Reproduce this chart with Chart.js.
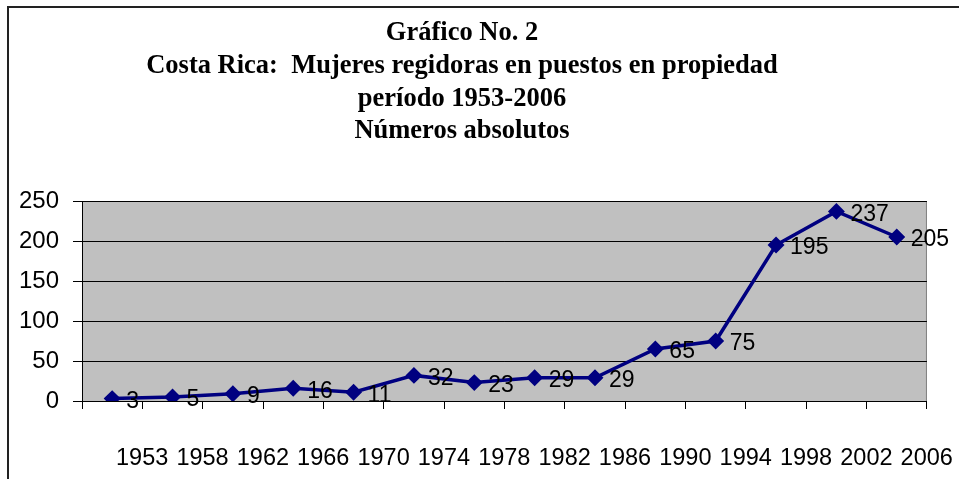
<!DOCTYPE html>
<html>
<head>
<meta charset="utf-8">
<script src="https://cdn.jsdelivr.net/npm/chart.js@4.4.1/dist/chart.umd.min.js"></script>
<style>
html,body{margin:0;padding:0;background:#fff;}
#wrap{position:relative;width:959px;height:479px;}
canvas{display:block;}
</style>
</head>
<body>
<div id="wrap"><canvas id="c" width="959" height="479"></canvas></div>
<script>
const categories = ['1953','1958','1962','1966','1970','1974','1978','1982','1986','1990','1994','1998','2002','2006'];
const values = [3,5,9,16,11,32,23,29,29,65,75,195,237,205];
const yTicks = [0,50,100,150,200,250];
const titleLines = [
  'Gráfico No. 2',
  'Costa Rica:  Mujeres regidoras en puestos en propiedad',
  'período 1953-2006',
  'Números absolutos'
];

const decor = {
  id: 'decor',
  beforeDraw(chart) {
    const {ctx, chartArea: a} = chart;
    ctx.save();
    ctx.fillStyle = '#ffffff';
    ctx.fillRect(0, 0, chart.width, chart.height);
    ctx.fillStyle = '#c0c0c0';
    ctx.fillRect(a.left, a.top, a.right - a.left, a.bottom - a.top);
    ctx.strokeStyle = '#808080';
    ctx.lineWidth = 1;
    ctx.strokeRect(a.left + 0.5, a.top + 0.5, a.right - a.left - 1, a.bottom - a.top);
    // outer frame
    ctx.strokeStyle = '#222';
    ctx.lineWidth = 2;
    ctx.beginPath();
    ctx.moveTo(8, chart.height);
    ctx.lineTo(8, 7);
    ctx.lineTo(chart.width, 7);
    ctx.stroke();
    // title
    ctx.fillStyle = '#000';
    ctx.font = 'bold 26.5px "Liberation Serif", "Times New Roman", serif';
    ctx.textAlign = 'center';
    ctx.textBaseline = 'middle';
    const ys = [33, 66, 99, 131];
    titleLines.forEach((t, i) => ctx.fillText(t, 462, ys[i]));
    ctx.restore();
  },
  afterDatasetsDraw(chart) {
    const {ctx} = chart;
    const meta = chart.getDatasetMeta(0);
    ctx.save();
    ctx.fillStyle = '#000';
    ctx.font = '23px "Liberation Sans", Arial, sans-serif';
    ctx.textAlign = 'left';
    ctx.textBaseline = 'middle';
    meta.data.forEach((p, i) => {
      ctx.fillText(String(values[i]), p.x + 14, p.y + 3);
    });
    ctx.restore();
  }
};

new Chart(document.getElementById('c'), {
  type: 'line',
  data: {
    labels: categories,
    datasets: [{
      data: values,
      borderColor: '#000080',
      backgroundColor: '#000080',
      borderWidth: 3.5,
      pointStyle: 'rectRot',
      pointRadius: 6,
      pointBackgroundColor: '#000080',
      pointBorderColor: '#000080',
      tension: 0,
      fill: false
    }]
  },
  options: {
    responsive: false,
    animation: false,
    devicePixelRatio: 1,
    layout: {padding: {left: 0, right: 31, top: 201, bottom: 0}},
    plugins: {legend: {display: false}, title: {display: false}, tooltip: {enabled: false}},
    scales: {
      x: {
        type: 'category',
        offset: true,
        afterFit(s) { s.height = 78; },
        grid: {offset: true, drawOnChartArea: false, drawTicks: true, tickLength: 8, color: '#000', lineWidth: 1},
        border: {display: true, color: '#000', width: 1},
        ticks: {
          color: '#000',
          font: {family: '"Liberation Sans", Arial, sans-serif', size: 23.5},
          padding: 35,
          labelOffset: 30,
          maxRotation: 0,
          autoSkip: false
        }
      },
      y: {
        min: 0,
        max: 250,
        afterFit(s) { s.width = 82; },
        afterBuildTicks(s) { s.ticks = yTicks.map(v => ({value: v})); },
        grid: {color: '#000', lineWidth: 1, tickLength: 9, drawTicks: true},
        border: {display: true, color: '#000', width: 1},
        ticks: {
          color: '#000',
          font: {family: '"Liberation Sans", Arial, sans-serif', size: 24},
          padding: 14
        }
      }
    }
  },
  plugins: [decor]
});
</script>
</body>
</html>
